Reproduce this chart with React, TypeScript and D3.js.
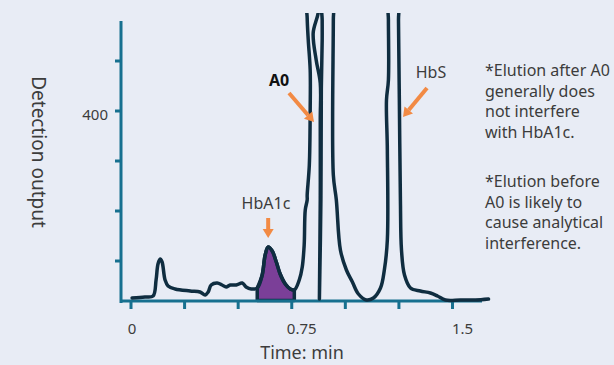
import React, { useEffect, useRef } from 'react';
import * as d3 from 'd3';

// Chart size (matches the page window)
const W = 614;
const H = 365;

// Chromatogram trace (time in min, detection output)
const traceTime = [
    0.005, 0.065, 0.103, 0.117, 0.126, 0.136, 0.145, 0.159, 0.173, 0.206,
    0.276, 0.322, 0.346, 0.360, 0.374, 0.402, 0.425, 0.444, 0.463, 0.491,
    0.519, 0.537, 0.561, 0.589, 0.612, 0.626, 0.640, 0.659, 0.678, 0.696,
    0.720, 0.743, 0.762, 0.785, 0.799, 0.808, 0.813, 0.822, 0.822, 0.832,
    0.836, 0.836, 0.827, 0.822, 0.822,
    0.874, 0.874, 0.850, 0.864, 0.883, 0.883, 0.883, 0.879,
    0.886, 0.888, 0.892, 0.892, 0.892,
    0.944, 0.944, 0.944, 0.958, 0.977, 1.005, 1.033, 1.061, 1.098, 1.131,
    1.164, 1.182, 1.196, 1.196, 1.192, 1.201, 1.201, 1.201,
    1.248, 1.248, 1.252, 1.257, 1.262, 1.276, 1.304, 1.350, 1.397, 1.430,
    1.467, 1.537, 1.607, 1.668
];
const traceOutput = [
    26, 28, 30, 62, 94, 104, 98, 62, 50, 44,
    40, 38, 32, 38, 52, 56, 52, 48, 52, 52,
    56, 48, 44, 46, 72, 112, 128, 120, 98, 74,
    54, 44, 42, 62, 88, 132, 202, 222, 232, 292,
    402, 482, 542, 586, 640,
    640, 598, 556, 502, 456, 382, 222, 24,
    222, 446, 542, 582, 640,
    640, 582, 272, 222, 122, 82, 58, 34, 22, 26,
    46, 82, 142, 322, 422, 462, 582, 640,
    640, 582, 422, 222, 122, 72, 46, 40, 36, 30,
    22, 22, 22, 24
];

// HbA1c peak window (shaded)
const hba1cStart = 0.589;
const hba1cEnd = 0.762;

// Axis ticks
const xTicks = [0, 0.25, 0.5, 0.75, 1, 1.25, 1.5];
const xTickLabels = ['0', '', '', '0.75', '', '', '1.5'];
const yTicks = [100, 200, 300, 400, 500];
const yTickLabels = ['', '', '', '400', ''];

// Notes on the right
const noteLines = [
    ['*Elution after A0', 'generally does', 'not interfere', 'with HbA1c.'],
    ['*Elution before', 'A0 is likely to', 'cause analytical', 'interference.']
];

const bg = '#e8ecf5';
const axisColor = '#17708f';
const lineColor = '#0f2d40';
const fillColor = '#7b3f98';
const arrowColor = '#f28a44';
const textColor = '#3c3c3c';
const font = '"Noto Sans", Lato, sans-serif';

function App() {
    const chartElement = useRef(null);

    useEffect(() => {
        const svg = d3.select(chartElement.current).html('');

        svg.append('rect').attr('width', W).attr('height', H).attr('fill', bg);

        const x = d3.scaleLinear().domain([0, 1.5]).range([131, 452.5]);
        const y = d3.scaleLinear().domain([20, 580]).range([301, 21]);
        const x0 = 121;
        const xAxisEnd = 482;
        const y0 = 301;

        const defs = svg.append('defs');
        defs.append('clipPath').attr('id', 'plotclip')
            .append('rect').attr('x', 0).attr('y', 13).attr('width', W).attr('height', H);

        const data = traceTime.map((t, i) => ({ t, v: traceOutput[i] }));

        // Shaded HbA1c peak
        const peak = data.filter((d) => d.t >= hba1cStart && d.t <= hba1cEnd);
        const area = d3.area()
            .x((d) => x(d.t))
            .y0(y(21))
            .y1((d) => y(d.v))
            .curve(d3.curveCatmullRom.alpha(0.5));
        svg.append('path')
            .datum(peak)
            .attr('d', area)
            .attr('fill', fillColor)
            .attr('stroke', lineColor)
            .attr('stroke-width', 3.5)
            .attr('stroke-linejoin', 'round');

        // Axes
        const axes = svg.append('g').attr('stroke', axisColor).attr('stroke-width', 3);
        axes.append('line').attr('x1', x0).attr('x2', x0).attr('y1', 21).attr('y2', y0 + 2);
        axes.append('line').attr('x1', x0 - 1).attr('x2', xAxisEnd).attr('y1', y0).attr('y2', y0);
        axes.selectAll('.xt').data(xTicks).enter().append('line')
            .attr('x1', (d) => x(d)).attr('x2', (d) => x(d))
            .attr('y1', y0).attr('y2', y0 + 8);
        axes.selectAll('.yt').data(yTicks).enter().append('line')
            .attr('x1', x0 - 6).attr('x2', x0)
            .attr('y1', (d) => y(d)).attr('y2', (d) => y(d));

        // Tick labels
        svg.selectAll('.xl').data(xTicks).enter().append('text')
            .attr('x', (d, i) => x(d) + (i === 0 ? 1 : 10))
            .attr('y', 334)
            .attr('text-anchor', 'middle')
            .attr('font-family', font).attr('font-size', 15).attr('fill', textColor)
            .text((d, i) => xTickLabels[i]);
        svg.selectAll('.yl').data(yTicks).enter().append('text')
            .attr('x', 108)
            .attr('y', (d) => y(d) + 9)
            .attr('text-anchor', 'end')
            .attr('font-family', font).attr('font-size', 15).attr('fill', textColor)
            .text((d, i) => yTickLabels[i]);

        // Axis titles
        svg.append('text')
            .attr('transform', 'translate(32,152) rotate(90)')
            .attr('text-anchor', 'middle')
            .attr('font-family', font).attr('font-size', 19).attr('fill', textColor)
            .text('Detection output');
        svg.append('text')
            .attr('x', 302).attr('y', 359)
            .attr('text-anchor', 'middle')
            .attr('font-family', font).attr('font-size', 18).attr('fill', textColor)
            .text('Time: min');

        // Trace
        const line = d3.line()
            .x((d) => x(d.t))
            .y((d) => y(d.v))
            .curve(d3.curveCatmullRom.alpha(0.5));
        svg.append('path')
            .datum(data)
            .attr('clip-path', 'url(#plotclip)')
            .attr('d', line)
            .attr('fill', 'none')
            .attr('stroke', lineColor)
            .attr('stroke-width', 3.5)
            .attr('stroke-linejoin', 'round')
            .attr('stroke-linecap', 'round');

        // Arrows
        function arrow(x1, y1, x2, y2) {
            const ang = Math.atan2(y2 - y1, x2 - x1);
            const len = 9;
            const hw = 5.5;
            const bx = x2 - len * Math.cos(ang);
            const by = y2 - len * Math.sin(ang);
            svg.append('line')
                .attr('x1', x1).attr('y1', y1).attr('x2', bx).attr('y2', by)
                .attr('stroke', arrowColor).attr('stroke-width', 4);
            const px = -Math.sin(ang) * hw;
            const py = Math.cos(ang) * hw;
            svg.append('path')
                .attr('d', `M${x2},${y2}L${bx + px},${by + py}L${bx - px},${by - py}Z`)
                .attr('fill', arrowColor);
        }
        arrow(289, 93, 314, 122);
        arrow(427, 88, 403, 117);
        arrow(x(0.64), 218, x(0.64), 238);

        // Peak labels
        const lab = (tx, ty, s, bold) => svg.append('text')
            .attr('x', tx).attr('y', ty)
            .attr('text-anchor', 'middle')
            .attr('font-family', font).attr('font-size', 16)
            .attr('font-weight', bold ? 'bold' : 'normal')
            .attr('fill', bold ? '#111' : textColor)
            .text(s);
        lab(279, 86, 'A0', true);
        lab(431, 78, 'HbS', false);
        lab(266, 209, 'HbA1c', false);

        // Notes
        noteLines.forEach((block, b) => {
            block.forEach((s, i) => {
                svg.append('text')
                    .attr('x', 485)
                    .attr('y', 76 + b * 111 + i * 20.5)
                    .attr('font-family', font).attr('font-size', 16).attr('fill', textColor)
                    .text(s);
            });
        });
    }, []);

    return (
        <svg ref={chartElement} width={W} height={H}
            style={{ position: 'absolute', left: 0, top: 0, display: 'block' }}></svg>
    );
}

export default App;
